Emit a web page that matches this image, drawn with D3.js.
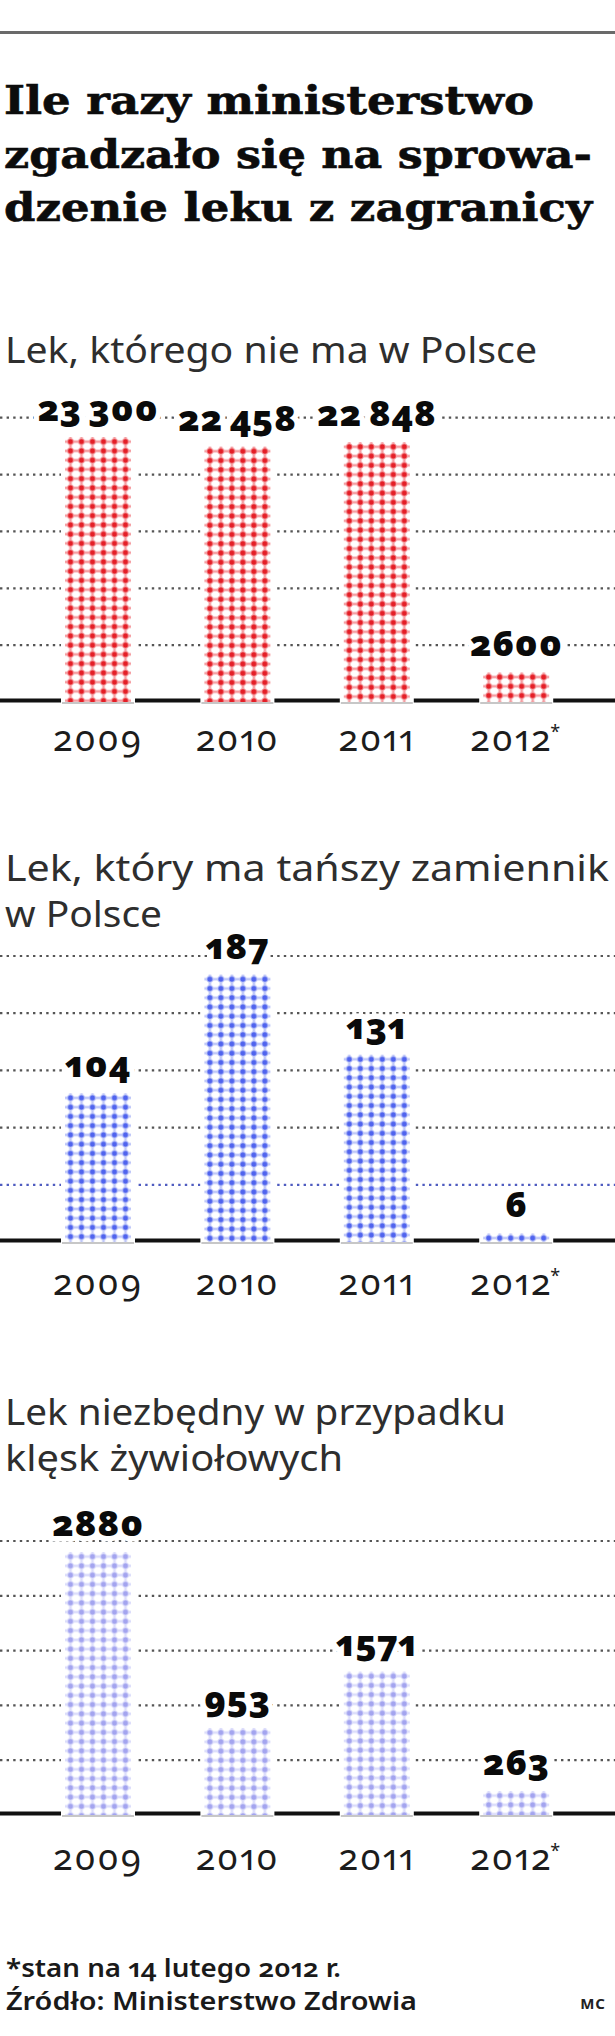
<!DOCTYPE html>
<html>
<head>
<meta charset="utf-8">
<script src="https://cdn.jsdelivr.net/npm/d3@7"></script>
<style>
  html, body { margin: 0; padding: 0; background: #fff; }
  svg { display: block; }
  .num { font-variant-numeric: oldstyle-nums proportional-nums; font-feature-settings: "onum" 1, "pnum" 1; }
</style>
</head>
<body>
<script>
// ---------- DATA ----------
const years = ["2009", "2010", "2011", "2012"];
const yearLabels = ["2009", "2010", "2011", "2012"];
const yearMarks = ["", "", "", "*"];
const notAvailable = [23300, 22458, 22848, 2600];
const cheaperSubstitute = [104, 187, 131, 6];
const disasterDrugs = [2880, 953, 1571, 263];
const gridNotAvailable = [5000, 10000, 15000, 20000, 25000];
const gridCheaper = [40, 80, 120, 160, 200];
const gridDisaster = [600, 1200, 1800, 2400, 3000];
const titleLines = ["Ile razy ministerstwo", "zgadzało się na sprowa-", "dzenie leku z zagranicy"];
const subtitle1 = ["Lek, którego nie ma w Polsce"];
const subtitle2 = ["Lek, który ma tańszy zamiennik", "w Polsce"];
const subtitle3 = ["Lek niezbędny w przypadku", "klęsk żywiołowych"];
const notes = ["*stan na 14 lutego 2012 r.", "Źródło: Ministerstwo Zdrowia"];
const credit = "MC";

// ---------- LAYOUT ----------
const W = 615, H = 2036;
const SANS = "'Noto Sans', 'Open Sans', sans-serif";
const svg = d3.select("body").append("svg").attr("width", W).attr("height", H);
const defs = svg.append("defs");

// top rule
svg.append("rect").attr("x", 0).attr("y", 31).attr("width", W).attr("height", 3).attr("fill", "#6a6a6a");

// title
const titleWidths = [530, 588, 588];
svg.append("g").selectAll("text").data(titleLines).join("text")
  .attr("x", 4).attr("y", (d, i) => 114 + i * 53.5)
  .attr("font-family", "'DejaVu Serif', serif").attr("font-weight", 700).attr("font-size", 40)
  .attr("fill", "#0c0c0c").attr("stroke", "#0c0c0c").attr("stroke-width", 0.6)
  .attr("textLength", (d, i) => titleWidths[i]).attr("lengthAdjust", "spacingAndGlyphs")
  .text(d => d);

function subtitle(lines, y0, widths) {
  svg.append("g").selectAll("text").data(lines).join("text")
    .attr("x", 5).attr("y", (d, i) => y0 + i * 46)
    .attr("font-family", SANS).attr("font-weight", 400).attr("font-size", 35.5)
    .attr("fill", "#2e2e2e")
    .attr("textLength", (d, i) => widths[i]).attr("lengthAdjust", "spacingAndGlyphs")
    .text(d => d);
}
subtitle(subtitle1, 363, [532]);
subtitle(subtitle2, 881, [604, 157]);
subtitle(subtitle3, 1425, [501, 338]);

// shared x scale
const x = d3.scaleBand().domain(years).range([16.2, 598]).paddingInner(0.5265).paddingOuter(0.35);
const bw = x.bandwidth();

const fmt = v => v >= 10000 ? d3.format(",")(v).replace(/,/g, "\u2009") : String(v);

const charts = [
  { id: "a", values: notAvailable, grid: gridNotAvailable, max: 25000, base: 702, top: 417.7, yearY: 751,
    dot: "#e41e26", halo: "#f59ea2", gridColor: d => "#555" },
  { id: "b", values: cheaperSubstitute, grid: gridCheaper, max: 200, base: 1242, top: 956, yearY: 1295,
    dot: "#4f63ee", halo: "#bfc7f8", gridColor: (d, i) => i === 0 ? "#4f5cc0" : "#555" },
  { id: "c", values: disasterDrugs, grid: gridDisaster, max: 3000, base: 1815, top: 1541, yearY: 1870,
    dot: "#a3a4ef", halo: "#dcddfb", gridColor: d => "#555" }
];

charts.forEach(c => {
  const y = d3.scaleLinear().domain([0, c.max]).range([c.base, c.top]);
  const g = svg.append("g");
  const rows = years.map((yr, i) => ({ yr, v: c.values[i], label: yearLabels[i], mark: yearMarks[i], i }));

  // gridlines
  g.selectAll("line.grid").data(c.grid).join("line").attr("class", "grid")
    .attr("x1", 0).attr("x2", W)
    .attr("y1", d => y(d)).attr("y2", d => y(d))
    .attr("stroke", (d, i) => c.gridColor(d, i)).attr("stroke-width", 2.2)
    .attr("stroke-dasharray", "2.4,4.2");

  // baseline
  g.append("line").attr("x1", 0).attr("x2", W)
    .attr("y1", y(0) - 1.5).attr("y2", y(0) - 1.5)
    .attr("stroke", "#111").attr("stroke-width", 4);

  // white clearance around bars
  g.selectAll("rect.clear").data(rows).join("rect").attr("class", "clear")
    .attr("x", d => x(d.yr) - 4).attr("width", bw + 8)
    .attr("y", d => y(d.v)).attr("height", d => y(0) - y(d.v) + 4)
    .attr("fill", "#fff");
  g.selectAll("line.under").data(rows).join("line").attr("class", "under")
    .attr("x1", d => x(d.yr) - 3).attr("x2", d => x(d.yr) + bw + 3)
    .attr("y1", y(0) + 1).attr("y2", y(0) + 1)
    .attr("stroke", "#b5b5b5").attr("stroke-width", 1.5);

  // dot patterns, one per bar, anchored to the bar
  const cw = bw / 6, ch = 9.25;
  const pats = defs.selectAll(null).data(rows).join("pattern")
    .attr("id", d => `pat-${c.id}-${d.i}`)
    .attr("patternUnits", "userSpaceOnUse")
    .attr("x", d => x(d.yr)).attr("y", d => y(d.v))
    .attr("width", cw).attr("height", ch);
  pats.append("rect").attr("width", cw).attr("height", ch).attr("fill", "#fff");
  pats.append("line").attr("x1", 0).attr("x2", cw).attr("y1", ch / 2).attr("y2", ch / 2)
    .attr("stroke", c.halo).attr("stroke-width", 2.6);
  pats.append("line").attr("y1", 0).attr("y2", ch).attr("x1", cw / 2).attr("x2", cw / 2)
    .attr("stroke", c.halo).attr("stroke-width", 2.6);
  pats.append("circle").attr("cx", cw / 2).attr("cy", ch / 2).attr("r", 3.5).attr("fill", c.halo);
  pats.append("circle").attr("cx", cw / 2).attr("cy", ch / 2).attr("r", 2.5).attr("fill", c.dot);

  // bars
  g.selectAll("rect.bar").data(rows).join("rect").attr("class", "bar")
    .attr("x", d => x(d.yr)).attr("width", bw)
    .attr("y", d => y(d.v)).attr("height", d => y(0) - y(d.v))
    .attr("fill", d => `url(#pat-${c.id}-${d.i})`);

  // value labels
  g.selectAll("text.val").data(rows).join("text").attr("class", "val num")
    .attr("x", d => x(d.yr) + bw / 2).attr("y", d => y(d.v) - 16)
    .attr("text-anchor", "middle")
    .attr("font-family", SANS).attr("font-weight", 900).attr("font-size", 36)
    .attr("letter-spacing", 0.8)
    .attr("fill", "#0a0a0a")
    .attr("stroke", "#fff").attr("stroke-width", 11).attr("stroke-linejoin", "round")
    .attr("paint-order", "stroke")
    .text(d => fmt(d.v));

  // year labels
  const yl = g.selectAll("text.year").data(rows).join("text").attr("class", "year num")
    .attr("x", d => x(d.yr) + bw / 2).attr("y", c.yearY)
    .attr("text-anchor", "middle")
    .attr("font-family", SANS).attr("font-weight", 400).attr("font-size", 36)
    .attr("letter-spacing", 1.8)
    .attr("fill", "#1c1c1c");
  yl.append("tspan").text(d => d.label);
  yl.append("tspan").attr("font-size", 18).attr("dx", -2).attr("dy", -13).text(d => d.mark);
});

// footnotes
svg.append("g").selectAll("text").data(notes).join("text").attr("class", "num")
  .attr("x", 6).attr("y", (d, i) => 1977 + i * 33)
  .attr("font-family", SANS).attr("font-weight", 600).attr("font-size", 25)
  .attr("fill", "#1a1a1a")
  .attr("textLength", (d, i) => [335, 411][i]).attr("lengthAdjust", "spacingAndGlyphs")
  .text(d => d);

svg.append("text").attr("x", 606).attr("y", 2009).attr("text-anchor", "end")
  .attr("font-family", SANS).attr("font-weight", 700).attr("font-size", 15)
  .attr("letter-spacing", 1).attr("fill", "#222").text(credit);
</script>
</body>
</html>
